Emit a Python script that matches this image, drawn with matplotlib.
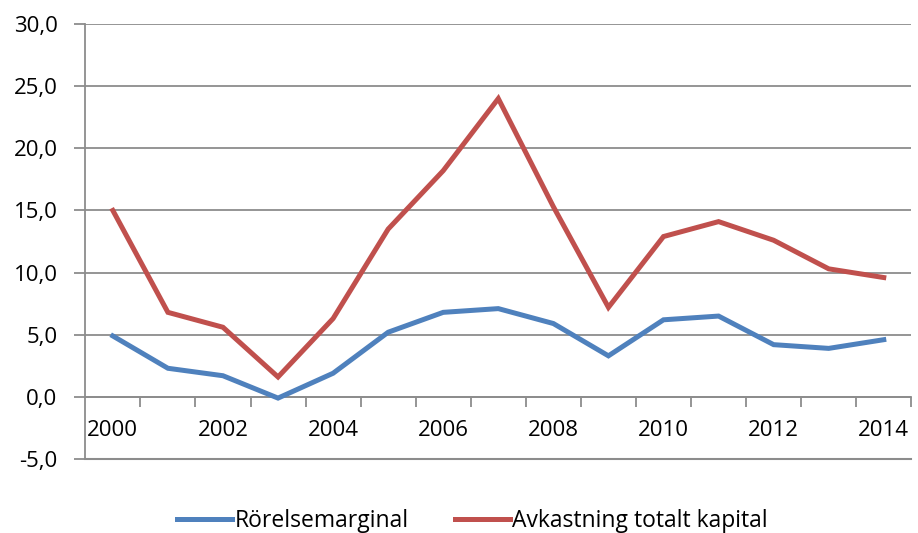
import matplotlib
matplotlib.use("Agg")
import matplotlib.pyplot as plt
from matplotlib.ticker import FuncFormatter, FixedLocator

years = list(range(2000, 2015))
rorelsemarginal = [4.9, 2.3, 1.7, -0.1, 1.9, 5.2, 6.8, 7.1, 5.9, 3.3, 6.2, 6.5, 4.2, 3.9, 4.6]
avkastning = [15.0, 6.8, 5.6, 1.6, 6.3, 13.5, 18.2, 24.0, 15.3, 7.2, 12.9, 14.1, 12.6, 10.3, 9.6]
series_names = ["Rörelsemarginal", "Avkastning totalt kapital"]
colors = ["#4F81BD", "#C0504D"]
yticks = [-5, 0, 5, 10, 15, 20, 25, 30]

plt.rcParams['font.family'] = ['Open Sans', 'DejaVu Sans']
fig = plt.figure(figsize=(9.18, 5.33), dpi=100)
ax = fig.add_axes([85.3/918, 1-459/533, (911.3-85.3)/918, (459-24)/533])

x = list(range(len(years)))
for vals, name, c in zip([rorelsemarginal, avkastning], series_names, colors):
    ax.plot(x, vals, color=c, lw=3.6, label=name, solid_joinstyle='miter', zorder=3)

ax.set_xlim(-0.5, len(years) - 0.5)
ax.set_ylim(-5, 30)
ax.set_yticks(yticks)
ax.yaxis.set_major_formatter(FuncFormatter(lambda v, p: f"{v:.1f}".replace('.', ',')))
ax.grid(axis='y', color='#8c8c8c', lw=1.3)
ax.axhline(-5, color='#8c8c8c', lw=1.5, clip_on=False, zorder=1)
ax.set_axisbelow(True)

for s in ['top', 'right']:
    ax.spines[s].set_visible(False)
ax.spines['left'].set_color('#8c8c8c')
ax.spines['left'].set_linewidth(1.3)
ax.spines['bottom'].set_position(('data', 0))
ax.spines['bottom'].set_color('#8c8c8c')
ax.spines['bottom'].set_linewidth(1.3)

# major ticks at category boundaries, labels on minor ticks at centres
ax.xaxis.set_major_locator(FixedLocator([i + 0.5 for i in range(len(years))]))
ax.xaxis.set_major_formatter(FuncFormatter(lambda v, p: ""))
ax.set_xticks(x[::2], [str(y) for y in years[::2]], minor=True)
ax.tick_params(axis='x', which='major', length=7, width=1.3, color='#8c8c8c', direction='out')
ax.tick_params(axis='x', which='minor', length=0, pad=17, labelsize=16, labelcolor='black')
ax.tick_params(axis='y', length=8, width=1.3, color='#8c8c8c', pad=12, labelsize=16)

fig.legend(loc='center', bbox_to_anchor=(472.5/918, 1-521/533), ncol=2, frameon=False,
           fontsize=16.5, handlelength=2.4, handletextpad=0.1, columnspacing=2.0)

fig.savefig("out.png", dpi=100)
